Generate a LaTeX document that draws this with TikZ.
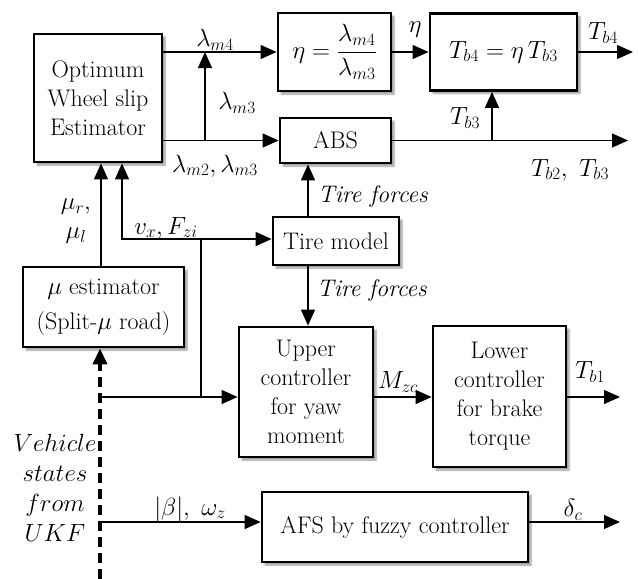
\documentclass[tikz,border=0pt]{standalone}
\usepackage{fontspec}
\usepackage{amsmath}
\usetikzlibrary{arrows.meta,shadows.blur,calc}
\tikzset{
  box/.style={draw, line width=2.8pt, fill=white, align=center, inner sep=0pt,
    blur shadow={shadow xshift=3pt, shadow yshift=-3pt, shadow blur steps=6, shadow opacity=40},
    font=\fontsize{24}{29}\selectfont},
  thinline/.style={line width=1.2pt},
  arr/.style={line width=1.2pt, -{Triangle[length=16pt,width=14pt]}},
  darr/.style={line width=3.6pt, dash pattern=on 10pt off 6pt, -{Triangle[length=16pt,width=14pt]}},
  lbl/.style={font=\fontsize{24}{28}\selectfont, inner sep=1pt},
}
\begin{document}
\begin{tikzpicture}[x=1pt,y=-1pt]
\useasboundingbox (0,0) rectangle (638,579);
% boxes
\node[box, minimum width=128pt, minimum height=128pt] (opt) at (98,98) {Optimum\\Wheel slip\\Estimator};
\node[box, minimum width=113pt, minimum height=78pt] (eta) at (334.5,52) {$\eta=\dfrac{\lambda_{m4}}{\lambda_{m3}}$};
\node[box, minimum width=147pt, minimum height=77pt] (tb4) at (503.5,52) {$T_{b4}=\eta\,T_{b3}$};
\node[box, minimum width=111pt, minimum height=45pt] (abs) at (335.5,140.5) {ABS};
\node[box, minimum width=126pt, minimum height=48pt] (tire) at (336,241) {Tire model};
\node[box, minimum width=161pt, minimum height=80pt, font=\fontsize{24}{35}\selectfont] (mu) at (103.5,307) {$\mu$ estimator\\(Split-$\mu$ road)};
\node[box, minimum width=134pt, minimum height=130pt] (upper) at (306,392) {Upper\\controller\\for yaw\\moment};
\node[box, minimum width=133pt, minimum height=141pt] (lower) at (499.5,396.5) {Lower\\controller\\for brake\\torque};
\node[box, minimum width=266pt, minimum height=70pt] (afs) at (395,527) {AFS by fuzzy controller};
% coordinates
\coordinate (j1) at (205,140.5);
\coordinate (o4) at (633,52);
\coordinate (o23) at (628,140.5);
\coordinate (j2) at (492,140.5);
\coordinate (tfx) at (308,0);
\coordinate (mux) at (101,0);
\coordinate (vb) at (201,397);
\coordinate (vt) at (201,239);
\coordinate (vl) at (122,239);
\coordinate (s1) at (100,397);
\coordinate (o1) at (620,397);
\coordinate (s2) at (100,522);
\coordinate (oc) at (620,522);
\coordinate (sb) at (100,579);
% connectors
\draw[arr] (opt.east |- eta.west) -- (eta.west);
\draw[arr] (j1) -- (j1 |- eta.west);
\draw[arr] (opt.east |- abs.west) -- (abs.west);
\draw[arr] (eta.east) -- (tb4.west);
\draw[arr] (tb4.east) -- (o4);
\draw[arr] (abs.east) -- (o23);
\draw[arr] (j2) -- (j2 |- tb4.south);
\draw[arr] (tire.north -| tfx) -- (abs.south -| tfx);
\draw[arr] (tire.south -| tfx) -- (upper.north -| tfx);
\draw[arr] (mu.north -| mux) -- (opt.south -| mux);
\draw[thinline] (vb) -- (vt);
\draw[arr] (vt) -- (vl) -- (vl |- opt.south);
\draw[arr] (vt) -- (tire.west |- vt);
\draw[arr] (s1) -- (s1 -| upper.west);
\draw[arr] (upper.east |- s1) -- (lower.west |- s1);
\draw[arr] (lower.east |- s1) -- (o1);
\draw[arr] (s2) -- (s2 -| afs.west);
\draw[arr] (afs.east |- s2) -- (oc);
\draw[darr] (sb) -- (mu.south -| sb);
% labels
\node[lbl] (l1) at (215,40) {$\lambda_{m4}$};
\node[lbl] (l2) at (237,103) {$\lambda_{m3}$};
\node[lbl] (l3) at (215,166) {$\lambda_{m2},\lambda_{m3}$};
\node[lbl] (l4) at (415,30) {$\eta$};
\node[lbl] (l5) at (603,33) {$T_{b4}$};
\node[lbl] (l6) at (465,118) {$T_{b3}$};
\node[lbl] (l7) at (570,170) {$T_{b2},\ T_{b3}$};
\node[lbl] (l8) at (373,196) {\textit{Tire forces}};
\node[lbl] (l9) at (372,290) {\textit{Tire forces}};
\node[lbl] (l10) at (76,207) {$\mu_r,$};
\node[lbl] (l11) at (76,236) {$\mu_l$};
\node[lbl] (l12) at (166,228) {$v_x, F_{zi}$};
\node[lbl] (l13) at (398,382) {$M_{zc}$};
\node[lbl] (l14) at (590,372) {$T_{b1}$};
\node[lbl] (l15) at (190,509) {$|\beta|,\ \omega_z$};
\node[lbl] (l16) at (573,510) {$\delta_c$};
\node[lbl, align=center, font=\fontsize{25}{30}\selectfont] (l17) at (55,488) {$Vehicle$\\$states$\\$from$\\$UKF$};
\end{tikzpicture}
\end{document}
